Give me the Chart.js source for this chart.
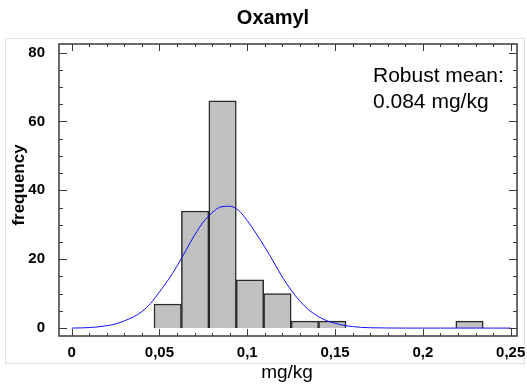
<!DOCTYPE html>
<html>
<head>
<meta charset="utf-8">
<script src="https://cdn.jsdelivr.net/npm/chart.js@4/dist/chart.umd.min.js"></script>
<style>
html,body{margin:0;padding:0;background:#fff;}
#wrap{position:relative;width:527px;height:388px;}
</style>
</head>
<body>
<div id="wrap"><canvas id="c" width="527" height="388"></canvas></div>
<script>
// ---- data ----
const titleText = "Oxamyl";
const xAxisLabel = "mg/kg";
const yAxisLabel = "frequency";
const noteLines = ["Robust mean:", "0.084 mg/kg"];
// histogram bins (mg/kg): lower and upper edges, and frequencies
const binLow  = [0.046875, 0.0625, 0.078125, 0.09375, 0.109375, 0.125, 0.140625, 0.21875];
const binHigh = [0.0625, 0.078125, 0.09375, 0.109375, 0.125, 0.140625, 0.15625, 0.234375];
const frequencies = [7, 34, 66, 14, 10, 2, 2, 2];
// fitted normal curve
const curveX = [0, 0.005, 0.01, 0.015, 0.02, 0.025, 0.03, 0.035, 0.04, 0.045, 0.05, 0.055, 0.06, 0.065, 0.07, 0.075, 0.08, 0.085, 0.09, 0.095, 0.1, 0.105, 0.11, 0.115, 0.12, 0.125, 0.13, 0.135, 0.14, 0.145, 0.15, 0.155, 0.16, 0.165, 0.17, 0.18, 0.19, 0.2, 0.21, 0.22, 0.23, 0.24, 0.25];
const curveY = [0, 0.05, 0.15, 0.35, 0.7, 1.2, 2.1, 3.2, 4.8, 7.2, 10.5, 14, 18, 22.5, 27, 30.8, 33.5, 35.2, 35.4, 34.2, 31.2, 27.5, 23.5, 19.2, 14.8, 11, 7.8, 5.3, 3.5, 2.2, 1.4, 0.8, 0.45, 0.2, 0.1, 0.03, 0, 0, 0, 0, 0, 0, 0];
// axis ticks
const xTickValues = [0, 0.05, 0.1, 0.15, 0.2, 0.25];
const xTickLabels = ["0", "0,05", "0,1", "0,15", "0,2", "0,25"];
const yTickValues = [0, 20, 40, 60, 80];
const yTickLabels = ["0", "20", "40", "60", "80"];

const barData = binLow.map((lo, i) => ({x: (lo + binHigh[i]) / 2, y: frequencies[i]}));
const curveData = curveX.map((x, i) => ({x: x, y: curveY[i]}));

const decor = {
  id: 'decor',
  beforeDraw(chart) {
    const ctx = chart.ctx;
    ctx.save();
    ctx.strokeStyle = '#e0e0e0';
    ctx.lineWidth = 1;
    ctx.strokeRect(5.5, 38.5, 519, 325);
    ctx.restore();
  },
  afterDraw(chart) {
    const ctx = chart.ctx, a = chart.chartArea;
    const xs = chart.scales.x, ys = chart.scales.y;
    ctx.save();
    ctx.strokeStyle = '#3a3a3a';
    ctx.lineWidth = 1.5;
    ctx.strokeRect(a.left, a.top, a.right - a.left, a.bottom - a.top);
    ctx.lineWidth = 1;
    ctx.beginPath();
    for (let v = 0; v <= 80; v += 5) {
      const p = Math.round(ys.getPixelForValue(v)) + 0.5;
      const len = (v % 20 === 0) ? 8 : 4;
      ctx.moveTo(a.left, p); ctx.lineTo(a.left + len, p);
      ctx.moveTo(a.right, p); ctx.lineTo(a.right - len, p);
    }
    for (let k = 0; k <= 25; k++) {
      const p = Math.round(xs.getPixelForValue(k / 100)) + 0.5;
      const len = (k % 5 === 0) ? 7 : 3;
      ctx.moveTo(p, a.bottom); ctx.lineTo(p, a.bottom - len);
      ctx.moveTo(p, a.top); ctx.lineTo(p, a.top + len);
    }
    ctx.stroke();
    // texts
    ctx.fillStyle = '#000';
    ctx.textAlign = 'center';
    ctx.textBaseline = 'middle';
    ctx.font = 'bold 20px "Liberation Sans", Arial, sans-serif';
    ctx.fillText(titleText, 273, 18);
    ctx.font = '19px "Liberation Sans", Arial, sans-serif';
    ctx.fillText(xAxisLabel, 287, 373);
    ctx.save();
    ctx.translate(19, 185);
    ctx.rotate(-Math.PI / 2);
    ctx.font = 'bold 17px "Liberation Sans", Arial, sans-serif';
    ctx.fillText(yAxisLabel, 0, 0);
    ctx.restore();
    ctx.textAlign = 'left';
    ctx.font = '21px "Liberation Sans", Arial, sans-serif';
    ctx.fillText(noteLines[0], 373, 76);
    ctx.fillText(noteLines[1], 373, 102);
    ctx.restore();
  }
};

new Chart(document.getElementById('c'), {
  type: 'bar',
  data: {
    datasets: [
      {
        type: 'line',
        data: curveData,
        borderColor: '#1010ff',
        borderWidth: 1,
        pointRadius: 0,
        cubicInterpolationMode: 'monotone',
        order: 0
      },
      {
        type: 'bar',
        data: barData,
        backgroundColor: '#c0c0c0',
        borderColor: '#2a2a2a',
        borderWidth: 1.5,
        barPercentage: 1,
        categoryPercentage: 1,
        order: 1
      }
    ]
  },
  options: {
    responsive: false,
    animation: false,
    events: [],
    layout: {padding: {left: 0, top: 44, right: 10, bottom: 0}},
    plugins: {legend: {display: false}, tooltip: {enabled: false}, title: {display: false}},
    scales: {
      x: {
        type: 'linear',
        offset: false,
        min: -0.0072,
        max: 0.2536,
        grid: {display: false, offset: false},
        border: {display: false},
        afterBuildTicks: (s) => { s.ticks = xTickValues.map(v => ({value: v})); },
        afterFit: (s) => { s.height = 52; },
        ticks: {
          padding: 0,
          color: '#000',
          maxRotation: 0,
          font: {family: '"Liberation Sans", Arial, sans-serif', size: 15, weight: 'bold'},
          callback: (v) => { const i = xTickValues.findIndex(t => Math.abs(t - v) < 1e-9); return i >= 0 ? xTickLabels[i] : ''; }
        }
      },
      y: {
        type: 'linear',
        min: -2.3,
        max: 82.5,
        grid: {display: false},
        border: {display: false},
        afterBuildTicks: (s) => { s.ticks = yTickValues.map(v => ({value: v})); },
        afterFit: (s) => { s.width = 59; },
        ticks: {
          padding: 6,
          color: '#000',
          font: {family: '"Liberation Sans", Arial, sans-serif', size: 15, weight: 'bold'},
          callback: (v) => { const i = yTickValues.indexOf(v); return i >= 0 ? yTickLabels[i] : ''; }
        }
      }
    }
  },
  plugins: [decor]
});
</script>
</body>
</html>
